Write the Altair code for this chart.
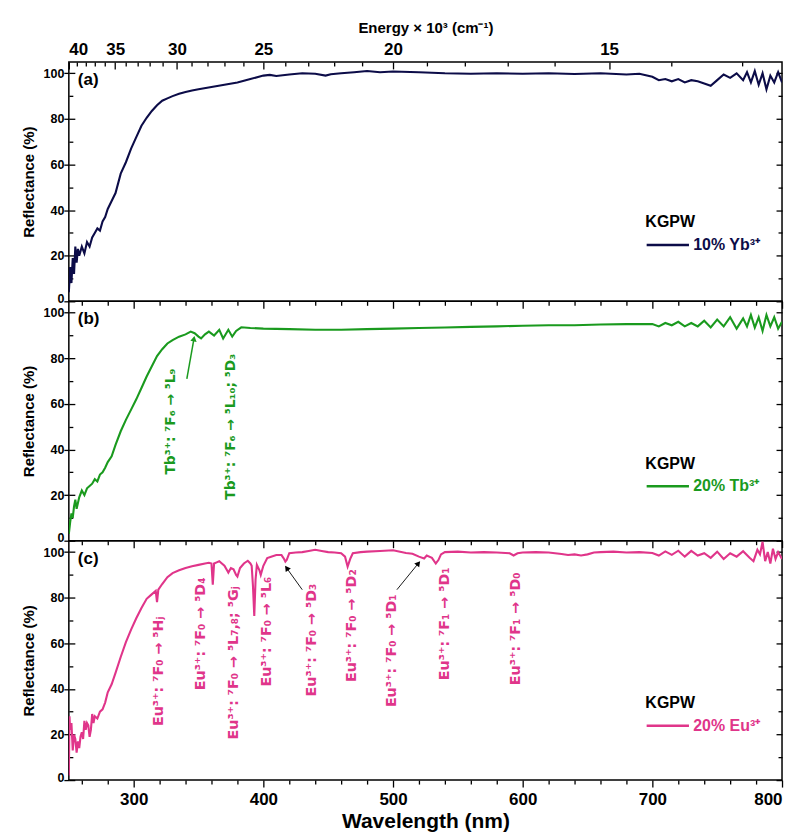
import altair as alt
import pandas as pd

FONT = "Liberation Sans"
ANN_FONT = "DejaVu Sans"
W, H = 715, 240
XDOM = [250, 800]
YDOM = [0, 105]

# ---------------- data ----------------
wl_yb = [250, 251, 252, 253, 254, 255, 256, 257, 258, 260, 262, 264, 266, 268, 270, 272, 274, 276,
         278, 280, 283, 286, 290, 294, 298, 302, 306, 310, 314, 318, 322, 326, 330, 335, 340, 345,
         350, 360, 370, 380, 390, 400, 405, 410, 420, 430, 440, 448, 452, 460, 470, 480, 490, 500,
         520, 540, 560, 580, 600, 620, 640, 660, 680, 690, 700, 705, 710, 715, 720, 725, 730, 735,
         740, 745, 750, 755, 760, 765, 770, 773, 776, 779, 782, 785, 788, 791, 794, 797, 800]
r_yb = [4, 15, 8, 19, 12, 24, 17, 23, 20, 24, 21, 26, 24, 28, 30, 32, 31, 35,
        37, 40.5, 44, 47.5, 56, 61, 67, 72, 77, 80.5, 83.5, 86, 88, 89, 90, 91, 91.8, 92.5,
        93, 94, 95, 96, 97.5, 99, 99.3, 98.8, 99.5, 100, 99.8, 99.0, 99.6, 100, 100.5, 101, 100.5, 100.8,
        100.5, 100, 99.8, 100, 99.8, 100, 99.7, 100, 99.5, 99.8, 98.5, 97, 97.5, 96.5, 97.5, 96, 97, 96.5,
        95.5, 94.5, 97, 99.5, 98, 100, 97, 100.5, 96, 101, 95, 100, 93, 99, 96, 100.5, 96]

wl_tb = [250, 251, 252, 253, 254, 255, 256, 258, 260, 262, 264, 266, 268, 270, 272, 274, 276, 278,
         280, 283, 286, 290, 294, 298, 302, 306, 310, 314, 318, 322, 326, 330, 335, 340, 344, 347,
         350, 352, 355, 358, 362, 366, 369, 373, 376, 379, 383, 390, 400, 420, 440, 460, 480, 500,
         520, 540, 560, 580, 600, 620, 640, 660, 680, 700, 705, 710, 715, 720, 725, 730, 735, 740,
         745, 750, 755, 760, 765, 770, 773, 776, 779, 782, 785, 788, 791, 794, 797, 800]
r_tb = [3, 8, 12, 10, 15, 18, 14, 19, 22, 20, 23, 24, 25, 27, 26, 29, 30, 32,
        34.5, 37, 42, 48, 53, 57.5, 62, 67, 72, 76.5, 81, 84, 86.5, 88, 89.5, 90.5, 91.7, 91,
        89.5, 88.7, 90.5, 91.7, 90, 92.5, 88.7, 92.5, 89.5, 92, 93.6, 93.3, 93, 92.8, 92.5, 92.5, 92.8, 93,
        93.3, 93.5, 93.8, 94, 94.3, 94.5, 94.5, 94.8, 95, 95, 94, 95.5, 94.5, 96, 94, 95.5, 94, 96.5,
        93.5, 97, 94, 98, 93, 97.5, 94, 99, 93.5, 98, 92, 99, 94, 98, 93, 96]

wl_eu = [250, 250.5, 251, 252, 253, 254, 255, 256, 257, 258, 259, 260, 261, 262, 263, 264, 265, 266,
         267, 268, 269, 270, 272, 274, 276, 278, 280, 283, 286, 290, 294, 298, 302, 306, 310, 313,
         315, 317, 318, 319, 322, 326, 330, 335, 340, 345, 350, 355, 358, 360, 361, 362, 364, 366,
         368, 370, 372, 373, 375, 377, 379, 380, 382, 385, 388, 390, 391, 392, 393, 394, 395, 397,
         398, 400, 403, 406, 410, 414, 416, 417, 418, 420, 425, 430, 435, 440, 445, 450, 455, 460,
         463, 465, 467, 469, 475, 480, 490, 500, 510, 515, 520, 524, 526, 530, 533, 535, 537, 540,
         550, 560, 570, 580, 590, 593, 596, 600, 610, 620, 630, 635, 640, 645, 650, 655, 660, 670,
         680, 690, 700, 705, 710, 715, 720, 725, 730, 735, 740, 745, 750, 755, 760, 765, 770, 775,
         778, 781, 783, 785, 787, 789, 791, 793, 795, 797, 800]
r_eu = [2, 28, 22, 25, 13, 20, 18, 12, 17, 14, 19, 21, 18, 26, 22, 25, 24, 19,
        22, 29, 25, 28, 27, 30, 31, 34, 38.5, 42, 47, 54, 60.5, 66, 71, 75.5, 79.5, 81,
        82, 83, 78, 83.5, 86, 89, 90.8, 92, 93, 93.8, 94.4, 95, 95.3, 95, 85.7, 95, 95.5, 96,
        95, 94, 92, 91, 93, 92.5, 90, 89.3, 93, 95, 96.2, 95, 94, 85, 72, 88, 94.4, 92,
        90, 94, 97.4, 98, 98.7, 98.7, 97, 95.8, 96.5, 99.5, 99.8, 100, 100.5, 101, 100.5, 100, 99.8, 99.5,
        98, 93.6, 97, 99.5, 100, 100.2, 100.5, 100.8, 99.6, 99.3, 98, 97.2, 98.5, 97.5, 95, 96.5, 99, 100,
        100.2, 99.8, 100, 99.8, 99.5, 98.5, 99.5, 99.8, 100, 99.8, 99.2, 98.7, 99, 98.5, 99, 99.8, 100, 100.2,
        99.8, 100, 99.6, 98.5, 100.3, 98.8, 100.6, 98, 100.5, 98.5, 99.5, 97.5, 100.2, 97, 99.5, 98, 100.4, 97.5,
        96, 101, 99, 104.5, 96, 100, 95, 101.5, 97, 100, 97]

series_names = ["10% Yb³⁺", "20% Tb³⁺", "20% Eu³⁺"]
series_colors = ["#0c0c48", "#1a9a1e", "#e0358a"]
panel_tags = ["(a)", "(b)", "(c)"]

tb_ann_wl = [328.5, 375.0]
tb_ann_r = [29.0, 18.0]
tb_ann_text = ["Tb³⁺: ⁷F₆ → ⁵L₉", "Tb³⁺: ⁷F₆ → ⁵L₁₀; ⁵D₃"]

eu_ann_wl = [319.5, 352.0, 377.0, 403.0, 437.7, 468.5, 499.0, 540.0, 595.0]
eu_ann_r = [23.7, 39.4, 17.8, 41.0, 36.7, 43.0, 32.0, 43.8, 41.6]
eu_ann_text = ["Eu³⁺: ⁷F₀ → ⁵Hⱼ", "Eu³⁺: ⁷F₀ → ⁵D₄", "Eu³⁺: ⁷F₀ → ⁵L₇,₈; ⁵Gⱼ",
               "Eu³⁺: ⁷F₀ → ⁵L₆", "Eu³⁺: ⁷F₀ → ⁵D₃", "Eu³⁺: ⁷F₀ → ⁵D₂",
               "Eu³⁺: ⁷F₀ → ⁵D₁", "Eu³⁺: ⁷F₁ → ⁵D₁", "Eu³⁺: ⁷F₁ → ⁵D₀"]

# arrows: tail / head (wavelength, reflectance) and head rotation (deg)
tb_arrow_tail_wl = [341.0]
tb_arrow_tail_r = [71.0]
tb_arrow_head_wl = [346.5]
tb_arrow_head_r = [88.6]
tb_arrow_angle = [10]

eu_arrow_tail_wl = [430.0, 503.0]
eu_arrow_tail_r = [83.5, 83.5]
eu_arrow_head_wl = [418.0, 519.6]
eu_arrow_head_r = [93.0, 95.1]
eu_arrow_angle = [324, 39]

energy_ticks = list(range(40, 12, -1))          # x10^3 cm^-1
energy_major = [40, 35, 30, 25, 20, 15]
wl_ticks = list(range(260, 801, 20))
refl_major = [0, 20, 40, 60, 80, 100]
refl_all = list(range(0, 101, 10))

legend_y = [153, 155, 155]

xs = alt.Scale(domain=XDOM, nice=False, zero=False)
ys = alt.Scale(domain=YDOM, nice=False, zero=False)
dummy = pd.DataFrame({"wl": [250.0], "r": [0.0]})


def bold(size, font=FONT):
    return dict(font=font, fontSize=size, fontWeight="bold")


def invisible_axis_layer(x_axis=None, y_axis=None):
    return alt.Chart(dummy).mark_point(opacity=0).encode(
        x=alt.X("wl:Q", scale=xs, axis=x_axis),
        y=alt.Y("r:Q", scale=ys, axis=y_axis))


def panel(i, wl, r, ann=None, ann_size=14, arrows=None, arrow_color="black", arrow_width=1.0,
          bottom_labels=False, top_axis=False):
    name = series_names[i]
    color = series_colors[i]
    df = pd.DataFrame({"wl": wl, "r": r, "s": [name] * len(wl)})

    bax = dict(values=wl_ticks, grid=False, domain=False, tickColor="black", tickWidth=1.3,
               tickSize={"condition": {"test": "datum.value % 100 === 0", "value": 7}, "value": 4},
               labels=bottom_labels)
    if bottom_labels:
        bax.update(labelExpr="datum.value % 100 === 0 ? datum.label : ''", labelFont=FONT,
                   labelFontSize=17, labelFontWeight="bold", labelColor="black", labelPadding=4,
                   title="Wavelength (nm)", titleFont=FONT, titleFontSize=21, titleFontWeight="bold",
                   titleColor="black", titlePadding=4)
    else:
        bax.update(title=None)

    yax = alt.Axis(values=refl_major, grid=False, domain=False, tickColor="black", tickWidth=1.3,
                   tickSize=5, labelFont=FONT, labelFontSize=12.5, labelFontWeight="bold",
                   labelColor="black", labelPadding=0,
                   labelOffset={"condition": {"test": "datum.value === 0", "value": -3}, "value": 0},
                   title="Reflectance (%)", titleFont=FONT,
                   titleFontSize=15, titleFontWeight="bold", titleColor="black", titlePadding=7)

    line = alt.Chart(df).mark_line(strokeWidth=2.1, clip=True).encode(
        x=alt.X("wl:Q", scale=xs, axis=alt.Axis(**bax)),
        y=alt.Y("r:Q", scale=ys, axis=yax),
        color=alt.Color("s:N", scale=alt.Scale(domain=[name], range=[color]),
                        legend=alt.Legend(title="KGPW", orient="none", legendX=578, legendY=legend_y[i],
                                          titleFont=FONT, titleFontSize=16, titleFontWeight="bold",
                                          titleColor="black", labelFont=FONT, labelFontSize=16,
                                          labelFontWeight="bold", labelColor=color, symbolType="stroke",
                                          symbolSize=1800, symbolStrokeWidth=2.5, titlePadding=-8,
                                          labelOffset=3, padding=0)),
    )

    inner_left = invisible_axis_layer(y_axis=alt.Axis(
        orient="right", offset=-W, values=refl_all, labels=False, domain=False, grid=False,
        tickColor="black", tickWidth=1.3, title=None,
        tickSize={"condition": {"test": "datum.value % 20 === 0", "value": 6}, "value": 4}))
    inner_right = invisible_axis_layer(y_axis=alt.Axis(
        orient="left", offset=-W, values=refl_all, labels=False, domain=False, grid=False,
        tickColor="black", tickWidth=1.3, title=None,
        tickSize={"condition": {"test": "datum.value % 20 === 0", "value": 6}, "value": 4}))

    tag = alt.Chart(dummy).mark_text(align="left", baseline="middle", color="black", **bold(17)).encode(
        x=alt.value(9), y=alt.value(18), text=alt.value(panel_tags[i]))

    layers = [line, inner_left, inner_right, tag]

    if top_axis:
        energy_wl_major = [10000.0 / e for e in energy_major]
        energy_wl_all = [10000.0 / e for e in energy_ticks]
        top_labels = invisible_axis_layer(x_axis=alt.Axis(
            orient="top", values=energy_wl_major, ticks=False, domain=False, grid=False,
            labelExpr="format(round(10000 / datum.value), 'd')", labelFont=FONT, labelFontSize=17,
            labelFontWeight="bold", labelColor="black", labelPadding=3,
            title="Energy × 10³ (cm⁻¹)", titleFont=FONT, titleFontSize=15, titleFontWeight="bold",
            titleColor="black", titlePadding=5))
        top_ticks = invisible_axis_layer(x_axis=alt.Axis(
            orient="bottom", offset=-H, values=energy_wl_all, labels=False, domain=False, grid=False,
            tickColor="black", tickWidth=1.3, title=None,
            tickSize={"condition": {"test": "round(10000 / datum.value) % 5 === 0", "value": 7},
                      "value": 4}))
        layers += [top_labels, top_ticks]

    if ann is not None:
        adf = pd.DataFrame({"wl": ann[0], "r": ann[1], "t": ann[2]})
        layers.append(alt.Chart(adf).mark_text(angle=270, align="left", baseline="middle",
                                               color=color, **bold(ann_size, ANN_FONT)).encode(
            x=alt.X("wl:Q", scale=xs, axis=None), y=alt.Y("r:Q", scale=ys, axis=None), text="t:N"))

    if arrows is not None:
        rdf = pd.DataFrame({"wl": arrows[0], "r": arrows[1], "wl2": arrows[2], "r2": arrows[3],
                            "ang": arrows[4]})
        layers.append(alt.Chart(rdf).mark_rule(color=arrow_color, strokeWidth=arrow_width).encode(
            x=alt.X("wl:Q", scale=xs, axis=None), y=alt.Y("r:Q", scale=ys, axis=None),
            x2="wl2:Q", y2="r2:Q"))
        layers.append(alt.Chart(rdf).mark_point(shape="triangle-up", filled=True, color=arrow_color,
                                                size=40, opacity=1).encode(
            x=alt.X("wl2:Q", scale=xs, axis=None), y=alt.Y("r2:Q", scale=ys, axis=None),
            angle=alt.Angle("ang:Q", scale=None)))

    return alt.layer(*layers).resolve_axis(x="independent", y="independent").properties(
        width=W, height=H)


pa = panel(0, wl_yb, r_yb, top_axis=True)
pb = panel(1, wl_tb, r_tb, ann=(tb_ann_wl, tb_ann_r, tb_ann_text), ann_size=13.8,
           arrows=(tb_arrow_tail_wl, tb_arrow_tail_r, tb_arrow_head_wl, tb_arrow_head_r, tb_arrow_angle),
           arrow_color=series_colors[1], arrow_width=1.5)
pc = panel(2, wl_eu, r_eu, ann=(eu_ann_wl, eu_ann_r, eu_ann_text), ann_size=14.3,
           arrows=(eu_arrow_tail_wl, eu_arrow_tail_r, eu_arrow_head_wl, eu_arrow_head_r, eu_arrow_angle),
           arrow_color="black", arrow_width=0.9, bottom_labels=True)

chart = alt.vconcat(pa, pb, pc, spacing=0, bounds="flush").resolve_scale(color="independent").properties(
    padding={"left": 12, "top": 11, "right": 5, "bottom": 0}, background="white"
).configure_view(stroke="black", strokeWidth=1.5)

chart.save("out.html", embed_options={"renderer": "svg", "actions": False})
